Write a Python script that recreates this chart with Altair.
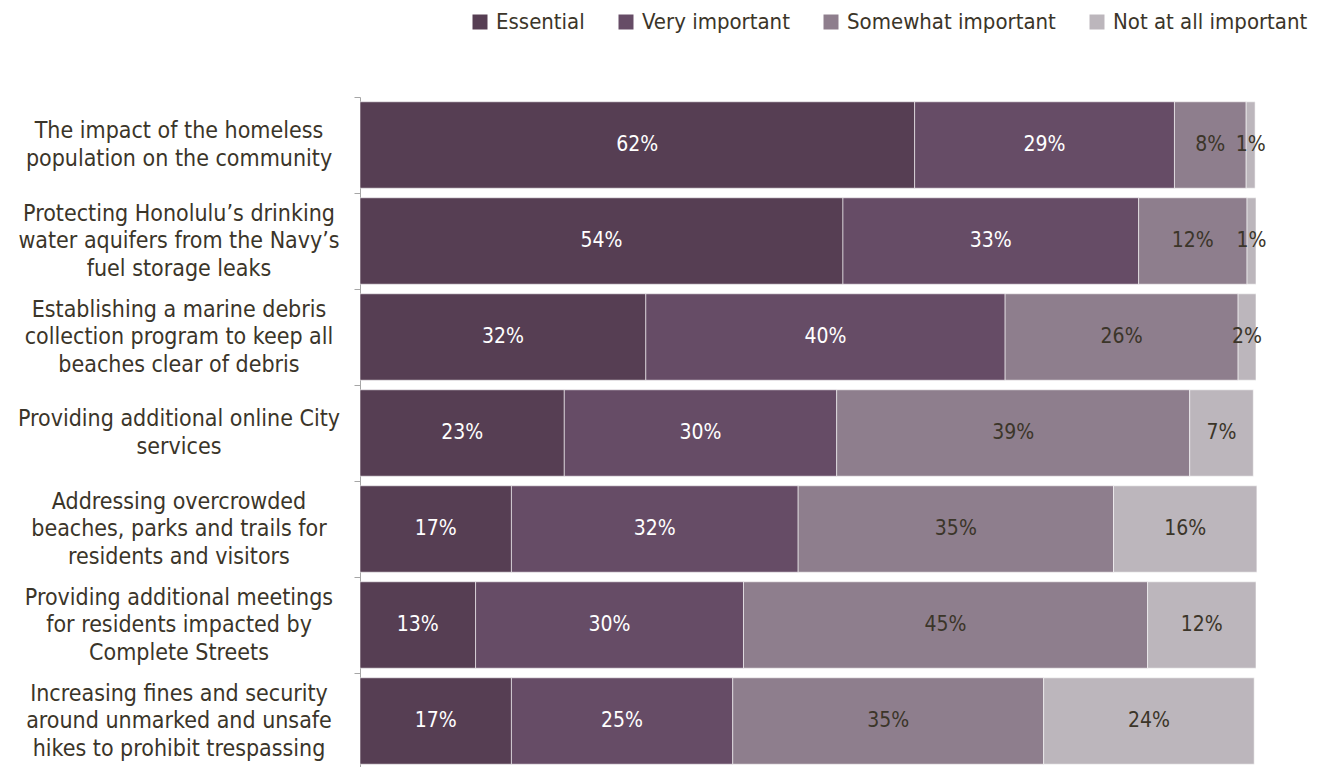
import altair as alt
import pandas as pd

tasks = [
    "The impact of the homeless|population on the community",
    "Protecting Honolulu’s drinking|water aquifers from the Navy’s|fuel storage leaks",
    "Establishing a marine debris|collection program to keep all|beaches clear of debris",
    "Providing additional online City|services",
    "Addressing overcrowded|beaches, parks and trails for|residents and visitors",
    "Providing additional meetings|for residents impacted by|Complete Streets",
    "Increasing fines and security|around unmarked and unsafe|hikes to prohibit trespassing",
]
categories = ["Essential", "Very important", "Somewhat important", "Not at all important"]

essential = [61.9, 53.9, 31.9, 22.8, 16.9, 12.9, 16.9]
very_important = [29.0, 33.0, 40.1, 30.4, 32.0, 29.9, 24.7]
somewhat_important = [8.0, 12.1, 26.0, 39.4, 35.2, 45.1, 34.7]
not_at_all_important = [1.0, 1.0, 2.0, 7.1, 16.0, 12.1, 23.5]

essential_labels = ["62%", "54%", "32%", "23%", "17%", "13%", "17%"]
very_labels = ["29%", "33%", "40%", "30%", "32%", "30%", "25%"]
somewhat_labels = ["8%", "12%", "26%", "39%", "35%", "45%", "35%"]
not_at_all_labels = ["1%", "1%", "2%", "7%", "16%", "12%", "24%"]

colors = ["#563e53", "#664c66", "#8e7e8d", "#bcb6bc"]

series = [essential, very_important, somewhat_important, not_at_all_important]
label_series = [essential_labels, very_labels, somewhat_labels, not_at_all_labels]

rows = []
for ci, cat in enumerate(categories):
    for ti, task in enumerate(tasks):
        rows.append({
            "task": task,
            "category": cat,
            "order": ci,
            "value": series[ci][ti],
            "label": label_series[ci][ti],
        })
df = pd.DataFrame(rows)
task_df = pd.DataFrame({"task": tasks})

FONT = "DejaVu Sans Condensed"
TEXT_COLOR = "#3b3529"
LINE_H = 27.5

base = alt.Chart(df).transform_stack(
    stack="value",
    groupby=["task"],
    as_=["v0", "v1"],
    sort=[alt.SortField("order", order="ascending")],
).transform_calculate(mid="(datum.v0 + datum.v1) / 2")

y_enc = alt.Y(
    "task:N",
    sort=tasks,
    scale=alt.Scale(paddingInner=0, paddingOuter=0),
    axis=alt.Axis(
        title=None,
        labels=False,
        tickBand="extent",
        tickSize=6,
        tickColor="#a6a6a6",
        domainColor="#a6a6a6",
        grid=False,
    ),
)

bars = base.mark_bar(
    height=alt.RelativeBandSize(0.9), stroke="white", strokeWidth=0.8, strokeOpacity=0.7
).encode(
    y=y_enc,
    x=alt.X("v0:Q", scale=alt.Scale(domain=[0, 100], nice=False), axis=None),
    x2="v1:Q",
    color=alt.Color(
        "category:N",
        sort=categories,
        scale=alt.Scale(domain=categories, range=colors),
        legend=alt.Legend(
            title=None,
            orient="none",
            direction="horizontal",
            legendX=109,
            legendY=-86,
            symbolType="square",
            symbolSize=225,
            symbolStrokeWidth=0,
            labelFont=FONT,
            labelFontSize=22,
            labelColor=TEXT_COLOR,
            labelOffset=5,
            columnPadding=30,
            padding=0,
            labelLimit=0,
        ),
    ),
)

texts = base.mark_text(font=FONT, fontSize=21).encode(
    y=alt.Y("task:N", sort=tasks),
    x=alt.X("mid:Q"),
    text="label:N",
    color=alt.condition("datum.order < 2", alt.value("white"), alt.value(TEXT_COLOR)),
)

label_base = alt.Chart(task_df).transform_calculate(
    nlines="length(split(datum.task, '|'))"
)
ylabels2 = label_base.transform_filter("datum.nlines == 2").mark_text(
    font=FONT, fontSize=23, lineBreak="|", lineHeight=LINE_H,
    align="center", baseline="middle", dy=-LINE_H / 2, color=TEXT_COLOR,
).encode(y=alt.Y("task:N", sort=tasks), x=alt.value(-181), text="task:N")
ylabels3 = label_base.transform_filter("datum.nlines == 3").mark_text(
    font=FONT, fontSize=23, lineBreak="|", lineHeight=LINE_H,
    align="center", baseline="middle", dy=-LINE_H, color=TEXT_COLOR,
).encode(y=alt.Y("task:N", sort=tasks), x=alt.value(-181), text="task:N")

chart = alt.layer(bars, texts, ylabels2, ylabels3).properties(
    width=896,
    height=672,
    autosize=alt.AutoSizeParams(type="none"),
    padding={"left": 352, "top": 89, "right": 74, "bottom": 0},
).configure_view(stroke=None)

chart.save("out.html", embed_options={"renderer": "svg", "actions": False})
